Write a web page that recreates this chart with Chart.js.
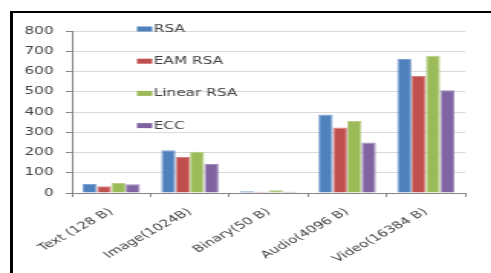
<!DOCTYPE html>
<html>
<head>
<meta charset="utf-8">
<script src="https://cdn.jsdelivr.net/npm/chart.js@4.4.1/dist/chart.umd.min.js"></script>
<style>
  html, body { margin: 0; padding: 0; background: #fff; overflow: hidden; }
  #page { position: relative; width: 491px; height: 273px; overflow: hidden; }
  /* black frame round the chart, runs off the bottom and right edge */
  #frame { position: absolute; left: 10px; top: 11px; width: 600px; height: 400px;
           border-left: 3px solid #000; border-top: 2px solid #000; }
  /* the source picture is stretched sideways, so draw narrow and stretch */
  #wrap { position: absolute; left: 0; top: 0; width: 321px; height: 273px;
          transform: scaleX(1.53); transform-origin: 0 0; }
</style>
</head>
<body>
<div id="page">
  <div id="frame"></div>
  <div id="wrap"><canvas id="chart" width="321" height="273"></canvas></div>
</div>
<script>
// données
const categories = ['Text (128 B)', 'Image(1024B)', 'Binary(50 B)', 'Audio(4096 B)', 'Video(16384 B)'];
const seriesNames = ['RSA', 'EAM RSA', 'Linear RSA', 'ECC'];
const rsaValues = [44, 211, 9, 388, 662];
const eamRsaValues = [33, 178, 6, 324, 578];
const linearRsaValues = [49, 204, 14, 356, 678];
const eccValues = [43, 143, 6, 249, 507];
const yTicks = [0, 100, 200, 300, 400, 500, 600, 700, 800];

const colors = ['#4F81BD', '#C0504D', '#9BBB59', '#8064A2'];
const edges = ['#7FA3D0', '#D48481', '#B7CF8A', '#A08CBB'];
const font = { family: 'DejaVu Sans', size: 10 };

// légende dessinée dans la zone du graphe, comme dans l'original
const insideLegend = {
  id: 'insideLegend',
  afterDatasetsDraw(chart) {
    const { ctx, chartArea } = chart;
    ctx.save();
    ctx.font = '10px "DejaVu Sans"';
    ctx.textBaseline = 'middle';
    chart.data.datasets.forEach((ds, i) => {
      const x = chartArea.left + 42.5;
      const y = chartArea.top - 2 + i * 32.2;
      ctx.fillStyle = ds.backgroundColor;
      ctx.fillRect(x, y - 2.5, 10, 5);
      ctx.fillStyle = '#404040';
      ctx.fillText(ds.label, x + 11, y + 0.5);
    });
    ctx.restore();
  }
};

const datasets = [rsaValues, eamRsaValues, linearRsaValues, eccValues].map((vals, i) => ({
  label: seriesNames[i],
  data: vals,
  backgroundColor: colors[i],
  borderColor: edges[i],
  borderWidth: 1,
  categoryPercentage: 0.73,
  barPercentage: 1
}));

new Chart(document.getElementById('chart'), {
  type: 'bar',
  data: { labels: categories, datasets },
  options: {
    responsive: false,
    animation: false,
    layout: { padding: { left: 15, right: 17, top: 31, bottom: 0 } },
    plugins: { legend: { display: false }, tooltip: { enabled: false } },
    scales: {
      x: {
        offset: true,
        afterFit: (scale) => { scale.height = 80; },
        grid: { display: true, drawOnChartArea: false, offset: true, tickLength: 4, color: '#868686' },
        border: { color: '#868686' },
        ticks: { font, color: '#404040', minRotation: 40, maxRotation: 40, padding: 9, autoSkip: false }
      },
      y: {
        min: 0,
        max: 800,
        afterFit: (scale) => { scale.width = 32; },
        afterBuildTicks: (scale) => { scale.ticks = yTicks.map(v => ({ value: v })); },
        grid: { color: '#D9D9D9', tickLength: 4, tickColor: '#868686' },
        border: { color: '#868686' },
        ticks: { font, color: '#404040', padding: 8 }
      }
    }
  },
  plugins: [insideLegend]
});
</script>
</body>
</html>
